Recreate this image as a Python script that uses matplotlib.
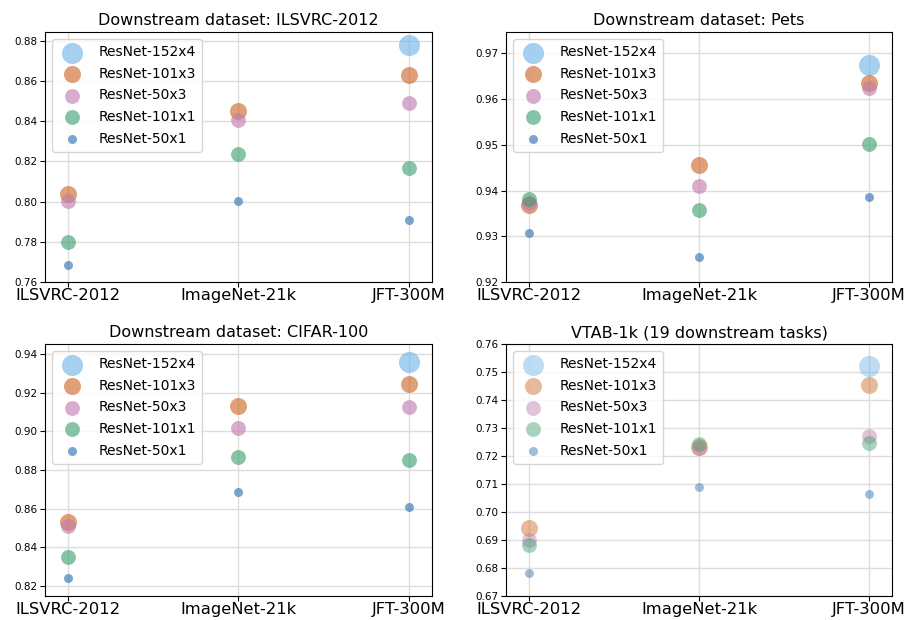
import numpy as np
import matplotlib
matplotlib.use('Agg')
import matplotlib.pyplot as plt

# Datos
upstream = ['ILSVRC-2012', 'ImageNet-21k', 'JFT-300M']
models = ['ResNet-152x4', 'ResNet-101x3', 'ResNet-50x3', 'ResNet-101x1', 'ResNet-50x1']
nan = np.nan

ilsvrc = {
    'ResNet-152x4': [nan, nan, 0.8777],
    'ResNet-101x3': [0.8038, 0.8448, 0.8630],
    'ResNet-50x3': [0.8003, 0.8407, 0.8491],
    'ResNet-101x1': [0.7798, 0.8238, 0.8165],
    'ResNet-50x1': [0.7686, 0.8005, 0.7906],
}
pets = {
    'ResNet-152x4': [nan, nan, 0.9675],
    'ResNet-101x3': [0.9369, 0.9457, 0.9635],
    'ResNet-50x3': [0.9373, 0.9411, 0.9624],
    'ResNet-101x1': [0.9382, 0.9358, 0.9501],
    'ResNet-50x1': [0.9307, 0.9254, 0.9386],
}
cifar = {
    'ResNet-152x4': [nan, nan, 0.9357],
    'ResNet-101x3': [0.8533, 0.9131, 0.9246],
    'ResNet-50x3': [0.8510, 0.9017, 0.9127],
    'ResNet-101x1': [0.8352, 0.8867, 0.8851],
    'ResNet-50x1': [0.8240, 0.8688, 0.8609],
}
vtab = {
    'ResNet-152x4': [nan, nan, 0.7523],
    'ResNet-101x3': [0.6942, 0.7231, 0.7453],
    'ResNet-50x3': [0.6900, 0.7229, 0.7272],
    'ResNet-101x1': [0.6882, 0.7244, 0.7245],
    'ResNet-50x1': [0.6782, 0.7088, 0.7063],
}

titles = ['Downstream dataset: ILSVRC-2012', 'Downstream dataset: Pets',
          'Downstream dataset: CIFAR-100', 'VTAB-1k (19 downstream tasks)']
panels = [ilsvrc, pets, cifar, vtab]
ylims = [(0.76, 0.8843), (0.92, 0.9747), (0.8148, 0.9452), (0.67, 0.76)]
alphas = [0.62, 0.62, 0.62, 0.45]

colors = {
    'ResNet-152x4': '#6FB3E8',
    'ResNet-101x3': '#CC6626',
    'ResNet-50x3': '#C27AAE',
    'ResNet-101x1': '#3E9E70',
    'ResNet-50x1': '#2A6FB0',
}
sizes = {
    'ResNet-152x4': 230,
    'ResNet-101x3': 150,
    'ResNet-50x3': 115,
    'ResNet-101x1': 115,
    'ResNet-50x1': 42,
}

fig = plt.figure(figsize=(9.07, 6.2), dpi=100)
rects = [
    [0.0496, 0.5452, 0.4267, 0.4032],
    [0.5579, 0.5452, 0.4256, 0.4032],
    [0.0496, 0.0387, 0.4267, 0.4065],
    [0.5579, 0.0387, 0.4256, 0.4065],
]

x = np.arange(len(upstream))
for rect, data, title, ylim, a in zip(rects, panels, titles, ylims, alphas):
    ax = fig.add_axes(rect)
    ax.set_axisbelow(True)
    ax.grid(color='#dddddd', linewidth=1)
    for m in models:
        ax.scatter(x, data[m], s=sizes[m], color=colors[m], alpha=a,
                   linewidths=0, label=m)
    ax.set_xlim(-0.135, 2.135)
    ax.set_ylim(*ylim)
    ax.set_xticks(x)
    ax.set_xticklabels(upstream, fontsize=11.8)
    ax.tick_params(axis='y', labelsize=7.5, pad=2)
    ax.tick_params(axis='x', pad=1)
    ax.set_title(title, fontsize=11.5, pad=5)
    ax.legend(loc='upper left', fontsize=10, labelspacing=0.55,
              borderpad=0.45, handletextpad=0.9)

plt.savefig('out.png', dpi=100)
